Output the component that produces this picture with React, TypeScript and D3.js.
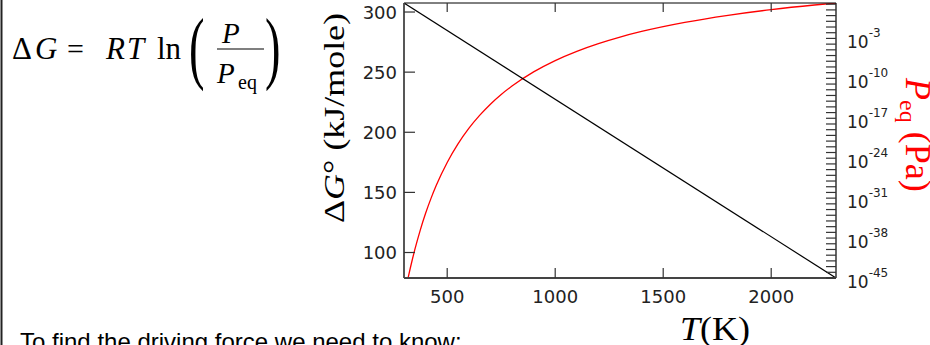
import React from "react";
import * as d3 from "d3";

// ---- data ----
const tempK = [300, 320, 340, 350, 375, 400, 425, 450, 500, 550, 600, 650, 700, 750, 800, 900, 1000, 1100, 1200, 1300, 1400, 1600, 1800, 2000, 2200, 2300];
const logPeq = [-48.54, -44.82, -41.54, -40.04, -36.64, -33.66, -31.04, -28.7, -24.74, -21.49, -18.78, -16.5, -14.53, -12.83, -11.35, -8.87, -6.88, -5.26, -3.91, -2.76, -1.78, -0.19, 1.05, 2.05, 2.86, 3.21];
const lineT = [300, 2300];
const deltaG = [307.5, 78.8];
const xTicks = [500, 1000, 1500, 2000];
const yTicks = [100, 150, 200, 250, 300];
const rightLabelExps = [-45, -38, -31, -24, -17, -10, -3];

const W = 930;
const H = 345;
const L = 404, R = 836, T = 3, B = 278;

export default function App() {
  const x = d3.scaleLinear().domain([300, 2300]).range([L, R]);
  const yL = d3.scaleLinear().domain([78.8, 307.5]).range([B, T]);
  const yR = d3.scaleLog().domain([1e-45, Math.pow(10, 3.21)]).range([B, T]);
  const decades = d3.range(-45, 4);

  const redPath = d3
    .line<number>()
    .x((_, i) => x(tempK[i]))
    .y((v) => yR(Math.pow(10, v)))
    .curve(d3.curveMonotoneX)(logPeq) || "";
  const blackPath = d3
    .line<number>()
    .x((_, i) => x(lineT[i]))
    .y((v) => yL(v))(deltaG) || "";

  const tickFont = "DejaVu Sans, sans-serif";
  const serif = "Liberation Serif, 'DejaVu Serif', serif";

  return (
    <svg
      width={W}
      height={H}
      style={{ position: "absolute", left: 0, top: 0, background: "#fff" }}
    >
      <defs>
        <clipPath id="plotclip">
          <rect x={L} y={T} width={R - L} height={B - T} />
        </clipPath>
      </defs>
      {/* left border line */}
      <line x1={1.5} y1={0} x2={1.5} y2={H} stroke="#222" strokeWidth={2} />

      {/* formula */}
      <g fontFamily={serif} fill="#000" fontSize={31}>
        <text x={12} y={59}>Δ</text>
        <text x={35} y={59} fontStyle="italic">G</text>
        <text x={67} y={59} fontSize={30}>=</text>
        <text x={106} y={59} fontStyle="italic">R</text>
        <text x={127} y={59} fontStyle="italic">T</text>
        <text x={157} y={59}>ln</text>
        <text transform="translate(189,74) scale(1.5,2.6)">(</text>
        <text x={222} y={43} fontSize={29} fontStyle="italic">P</text>
        <line x1={217} x2={264} y1={49} y2={49} stroke="#000" strokeWidth={1.2} />
        <text x={217} y={83} fontSize={29} fontStyle="italic">P</text>
        <text x={238} y={89} fontSize={20}>eq</text>
        <text transform="translate(265,74) scale(1.5,2.6)">)</text>
      </g>

      {/* bottom text */}
      <text x={20} y={350} fontSize={24} fontFamily="Liberation Sans, Arial, sans-serif" fill="#000">
        To find the driving force we need to know:
      </text>

      {/* curves */}
      <g clipPath="url(#plotclip)">
        <path d={redPath} fill="none" stroke="#ff0000" strokeWidth={1.3} />
        <path d={blackPath} fill="none" stroke="#000" strokeWidth={1.2} />
      </g>

      {/* frame */}
      <line x1={L} x2={R} y1={T} y2={T} stroke="#000" strokeWidth={1} />
      <line x1={R} x2={R} y1={T} y2={B} stroke="#000" strokeWidth={1.2} />
      <line x1={L} x2={L} y1={T} y2={B} stroke="#444" strokeWidth={1.8} />
      <line x1={L} x2={R} y1={B} y2={B} stroke="#444" strokeWidth={1.8} />

      {/* x ticks bottom & top */}
      {xTicks.map((t) => (
        <g key={"x" + t}>
          <line x1={x(t)} x2={x(t)} y1={B} y2={B - 10} stroke="#333" strokeWidth={1.2} />
          <line x1={x(t)} x2={x(t)} y1={T} y2={T + 9} stroke="#333" strokeWidth={1.2} />
          <text x={x(t)} y={B + 25} textAnchor="middle" fontSize={18} fontFamily={tickFont} fill="#222">
            {t}
          </text>
        </g>
      ))}

      {/* left ticks */}
      {yTicks.map((t) => (
        <g key={"y" + t}>
          <line x1={L} x2={L + 11} y1={yL(t)} y2={yL(t)} stroke="#333" strokeWidth={1.2} />
          <text x={L - 7} y={yL(t) + 6.5} textAnchor="end" fontSize={18} fontFamily={tickFont} fill="#222">
            {t}
          </text>
        </g>
      ))}

      {/* right log ticks */}
      {decades.map((e) => (
        <line
          key={"d" + e}
          x1={R}
          x2={R - 10}
          y1={yR(Math.pow(10, e))}
          y2={yR(Math.pow(10, e))}
          stroke="#333"
          strokeWidth={1.2}
        />
      ))}
      {rightLabelExps.map((e) => (
        <text
          key={"r" + e}
          x={847}
          y={yR(Math.pow(10, e)) + 10}
          fontSize={17}
          fontFamily={tickFont}
          fill="#222"
        >
          10
          <tspan fontSize={12} dy={-11}>
            {"-" + Math.abs(e)}
          </tspan>
        </text>
      ))}

      {/* axis titles */}
      <text x={680} y={340} fontSize={34} fontFamily={serif} fill="#000" textLength={70} lengthAdjust="spacingAndGlyphs">
        <tspan fontStyle="italic">T</tspan>(K)
      </text>
      <text
        transform="translate(344,118) rotate(-90)"
        textAnchor="middle"
        fontSize={30}
        fontFamily={serif}
        fill="#000"
        textLength={210}
        lengthAdjust="spacingAndGlyphs"
      >
        Δ<tspan fontStyle="italic">G</tspan>° (kJ/mole)
      </text>
      <text
        transform="translate(906,78) rotate(90)"
        fontSize={36}
        fontFamily={serif}
        fill="#ff0000"
      >
        <tspan fontStyle="italic">P</tspan>
        <tspan fontSize={24} dy={6}>eq</tspan>
        <tspan dy={-6}> (Pa)</tspan>
      </text>
    </svg>
  );
}
